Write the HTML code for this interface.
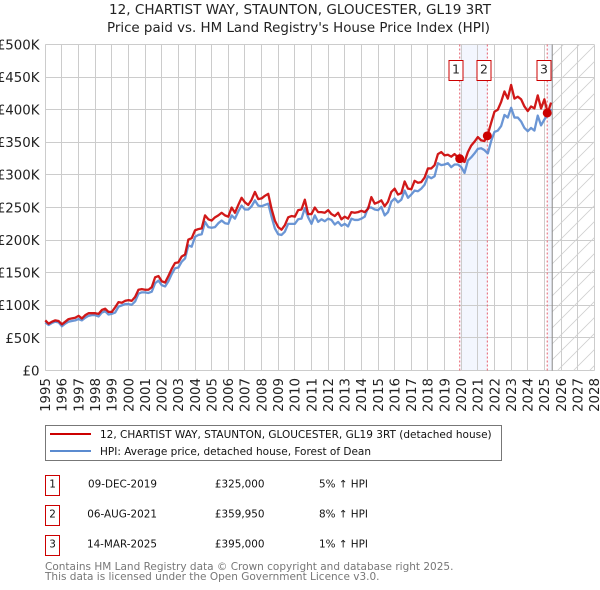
<!DOCTYPE html>
<html>
<head>
<meta charset="utf-8">
<style>
html,body{margin:0;padding:0;background:#fff;}
body{width:600px;height:590px;overflow:hidden;position:relative;font-family:"DejaVu Sans","Liberation Sans",sans-serif;}
svg{position:absolute;left:0;top:0;}
text{font-family:"DejaVu Sans","Liberation Sans",sans-serif;}
</style>
</head>
<body>
<svg id="chart" width="600" height="590" viewBox="0 0 600 590">
  <defs>
    <pattern id="hatch" patternUnits="userSpaceOnUse" width="16" height="16">
      <path d="M-2 18 L18 -2 M-2 2 L2 -2 M14 18 L18 14" stroke="#d0d0d0" stroke-width="0.8" fill="none"/>
    </pattern>
  </defs>
  <text x="109" y="14" textLength="382" lengthAdjust="spacingAndGlyphs" font-size="13.33" fill="#222">12, CHARTIST WAY, STAUNTON, GLOUCESTER, GL19 3RT</text>
  <text x="107" y="32" textLength="383" lengthAdjust="spacingAndGlyphs" font-size="13.33" fill="#222">Price paid vs. HM Land Registry's House Price Index (HPI)</text>
  <g id="plot"></g>

  <g>
    <rect x="45.5" y="425.5" width="456" height="35" fill="#fff" stroke="#777" stroke-width="1"/>
    <line x1="50" x2="91" y1="434" y2="434" stroke="#cc0000" stroke-width="2"/>
    <text x="100" y="438" font-size="10.5" fill="#111">12, CHARTIST WAY, STAUNTON, GLOUCESTER, GL19 3RT (detached house)</text>
    <line x1="50" x2="91" y1="451" y2="451" stroke="#5b8bd0" stroke-width="2"/>
    <text x="100" y="455" font-size="10.5" fill="#111">HPI: Average price, detached house, Forest of Dean</text>
  </g>

  <g font-size="10.4" fill="#111">
    <g>
      <rect x="45.5" y="475.5" width="14" height="20" fill="#fff" stroke="#cc0000"/>
      <text x="52.5" y="487.5" text-anchor="middle">1</text>
      <text x="157" y="487.5" text-anchor="end">09-DEC-2019</text>
      <text x="264.5" y="487.5" text-anchor="end">£325,000</text>
      <text x="319" y="487.5">5% ↑ HPI</text>
    </g>
    <g>
      <rect x="45.5" y="505.5" width="14" height="20" fill="#fff" stroke="#cc0000"/>
      <text x="52.5" y="517.5" text-anchor="middle">2</text>
      <text x="157" y="517.5" text-anchor="end">06-AUG-2021</text>
      <text x="264.5" y="517.5" text-anchor="end">£359,950</text>
      <text x="319" y="517.5">8% ↑ HPI</text>
    </g>
    <g>
      <rect x="45.5" y="535.5" width="14" height="20" fill="#fff" stroke="#cc0000"/>
      <text x="52.5" y="547.5" text-anchor="middle">3</text>
      <text x="157" y="547.5" text-anchor="end">14-MAR-2025</text>
      <text x="264.5" y="547.5" text-anchor="end">£395,000</text>
      <text x="319" y="547.5">1% ↑ HPI</text>
    </g>
  </g>

  <text x="45" y="570" font-size="10.5" fill="#777">Contains HM Land Registry data © Crown copyright and database right 2025.</text>
  <text x="45" y="580" font-size="10.5" fill="#777">This data is licensed under the Open Government Licence v3.0.</text>
</svg>
<script>
const yearTicks = [1995,1996,1997,1998,1999,2000,2001,2002,2003,2004,2005,2006,2007,2008,2009,2010,2011,2012,2013,2014,2015,2016,2017,2018,2019,2020,2021,2022,2023,2024,2025,2026,2027,2028];
const valueTicks = [0,50,100,150,200,250,300,350,400,450,500];
const valueTickLabels = ["£0","£50K","£100K","£150K","£200K","£250K","£300K","£350K","£400K","£450K","£500K"];
const seriesStartYear = 1995;
const seriesStepYears = 0.2;
const pricePaid = [
77,72,75,77,76, 71,75,79,80,81, 84,80,85,88,88, 88,87,93,95,90,
90,97,105,104,107, 108,107,113,124,125, 124,124,128,143,145, 137,135,145,156,165,
166,175,178,201,203, 215,217,218,238,232, 230,235,238,242,238, 236,250,242,254,265,
258,254,262,274,263, 264,268,271,248,230, 220,216,223,235,237, 236,246,247,262,240,
240,250,243,243,242, 246,240,237,242,232, 236,233,243,242,243, 245,243,248,266,256,
258,261,252,259,274, 279,270,272,290,279, 278,291,288,289,296, 310,310,315,332,335,
330,331,328,332,327, 322,320,335,345,351, 358,353,352,362,380, 397,400,412,428,417,
438,417,420,416,405, 398,405,402,422,402, 416,395,411
];
const hpiIndex = [
74,70,73,75,74, 68,72,75,76,77, 79,77,81,84,85, 85,83,89,91,86,
87,89,98,100,102, 102,101,106,118,120, 120,119,121,134,138, 131,129,137,148,157,
158,167,172,192,190, 205,208,209,228,220, 219,220,226,230,226, 225,238,233,244,253,
247,247,252,261,253, 252,254,256,236,218, 209,208,213,225,225, 225,232,233,249,235,
225,238,228,232,229, 233,231,224,228,222, 225,221,233,231,231, 233,236,250,250,247,
246,251,238,243,259, 264,258,262,276,265, 270,276,275,279,285, 298,295,298,318,315,
316,318,312,316,316, 312,303,322,327,333, 340,341,338,333,352, 366,368,375,392,388,
403,388,388,382,372, 367,372,368,391,376, 385,392,401
];
const saleNumbers = ["1","2","3"];
const saleYears = [2019.94,2021.6,2025.2];
const saleValues = [325,359.95,395];
const forecastStartYear = 2025.47;

const NS = "http://www.w3.org/2000/svg";
const plot = document.getElementById("plot");
const left = 45.3, right = 594.3, top_ = 44.5, bottom = 370.6;
const xMin = 1995, xMax = 2028, yMin = 0, yMax = 500;
function xScale(year){ return left + (year - xMin) / (xMax - xMin) * (right - left); }
function yScale(v){ return bottom - (v - yMin) / (yMax - yMin) * (bottom - top_); }
function snap(p){ return Math.round(p - 0.5) + 0.5; }
function make(tag, attrs, parent){
  const el = document.createElementNS(NS, tag);
  for (const k in attrs) el.setAttribute(k, attrs[k]);
  (parent || plot).appendChild(el);
  return el;
}

// sale shading bands
const band1 = make("rect", {x:xScale(saleYears[0]), y:top_, width:xScale(saleYears[1])-xScale(saleYears[0]), height:bottom-top_, fill:"#f3f6fe"});


const band2 = make("rect", {x:xScale(saleYears[2]), y:top_, width:xScale(forecastStartYear)-xScale(saleYears[2]), height:bottom-top_, fill:"#f3f6fe"});



// grid
valueTicks.forEach(function(v, i){
  const gl = make("line", {x1:left, x2:right, y1:snap(yScale(v)), y2:snap(yScale(v)), stroke:"#cccccc", "stroke-width":1});
  
  
  const t = make("text", {x:39.5, y:yScale(v)+4.8, "text-anchor":"end", "font-size":"13.33", fill:"#222"});
  
  
  t.textContent = valueTickLabels[i];
});
yearTicks.forEach(function(yr){
  const px = xScale(yr);
  const gl = make("line", {x1:snap(px), x2:snap(px), y1:top_, y2:bottom, stroke:"#cccccc", "stroke-width":1});
  
  
  const t = make("text", {transform:"translate("+(px+4.8)+",378) rotate(-90)", "text-anchor":"end", "font-size":"13.33", fill:"#222"});
  
  
  t.textContent = String(yr);
});

// forecast hatch
const hatch = make("rect", {x:xScale(forecastStartYear), y:top_, width:right-xScale(forecastStartYear), height:bottom-top_, fill:"url(#hatch)"});


const cutoff = make("line", {x1:xScale(forecastStartYear), x2:xScale(forecastStartYear), y1:top_, y2:bottom, stroke:"#888888", "stroke-width":1});



// sale date lines
saleYears.forEach(function(yr){
  const vl = make("line", {x1:xScale(yr)-0.5, x2:xScale(yr)-0.5, y1:top_, y2:bottom, stroke:"#e8606e", "stroke-width":1, "stroke-dasharray":"2 2"});
  
  
});

// series
function pathFrom(values){
  return values.map(function(v, i){
    const yr = seriesStartYear + i * seriesStepYears;
    return (i ? "L" : "M") + xScale(yr).toFixed(2) + " " + yScale(v).toFixed(2);
  }).join(" ");
}
const hpiLine = make("path", {d:pathFrom(hpiIndex), fill:"none", stroke:"#5b8bd0", "stroke-width":2.3, "stroke-linejoin":"round", opacity:0.9});


const priceLine = make("path", {d:pathFrom(pricePaid), fill:"none", stroke:"#cc0000", "stroke-width":2.3, "stroke-linejoin":"round", opacity:0.9});



// sale markers and numbered flags
saleYears.forEach(function(yr, i){
  const dot = make("circle", {cx:xScale(yr)-0.5, cy:yScale(saleValues[i]), r:4.5, fill:"#cc0000"});
  
  
  const box = make("rect", {x:Math.round(xScale(yr))-11, y:60.5, width:14, height:20, fill:"#fff", stroke:"#cc0000", "stroke-width":1});
  
  
  const lbl = make("text", {x:Math.round(xScale(yr))-4, y:73.5, "text-anchor":"middle", "font-size":"12.5", fill:"#222"});
  
  
  lbl.textContent = saleNumbers[i];
});
</script>
</body>
</html>
